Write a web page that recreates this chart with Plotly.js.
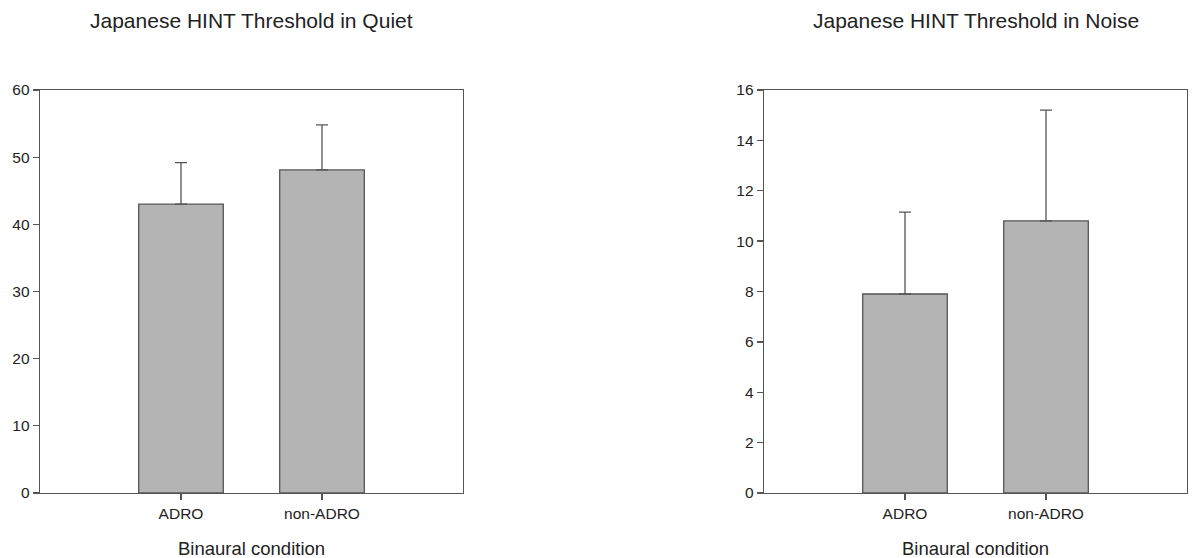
<!DOCTYPE html>
<html>
<head>
<meta charset="utf-8">
<script src="https://cdn.plot.ly/plotly-3.0.1.min.js"></script>
<style>
html,body{margin:0;padding:0;background:#fff;}
#chart{width:1192px;height:558px;}
</style>
</head>
<body>
<div id="chart"></div>
<script>
// Data
const categories = ['ADRO', 'non-ADRO'];
const quietMean = [43.0, 48.1];
const quietErr = [6.2, 6.7];
const noiseMean = [7.9, 10.8];
const noiseErr = [3.25, 4.4];
const quietTicks = [0, 10, 20, 30, 40, 50, 60];
const noiseTicks = [0, 2, 4, 6, 8, 10, 12, 14, 16];
const titles = ['Japanese HINT Threshold in Quiet', 'Japanese HINT Threshold in Noise'];
const xTitle = 'Binaural condition';

const W = 1192, H = 558;
const FONT = 'Liberation Sans, Arial, Helvetica, sans-serif';
const lineCol = '#555555';
const barFill = '#b4b4b4';

const dom1 = [40 / W, 463 / W];
const dom2 = [764 / W, 1187 / W];
const ydom = [(H - 493) / H, (H - 90) / H];

function barTrace(y, err, xa, ya) {
  return {
    type: 'bar',
    x: categories,
    y: y,
    xaxis: xa,
    yaxis: ya,
    marker: {color: barFill, line: {color: lineCol, width: 1.3}},
    error_y: {
      type: 'data', symmetric: false, array: err,
      arrayminus: err.map(() => 0),
      color: lineCol, thickness: 1.3, width: 6
    },
    hoverinfo: 'skip',
    showlegend: false
  };
}

const data = [
  barTrace(quietMean, quietErr, 'x', 'y'),
  barTrace(noiseMean, noiseErr, 'x2', 'y2')
];

function xAxis(domain, anchor) {
  return {
    domain: domain, anchor: anchor, type: 'category',
    range: [-1, 2],
    showline: true, linecolor: lineCol, linewidth: 1.3, mirror: true,
    ticks: 'outside', ticklen: 6, tickcolor: lineCol, tickwidth: 1.3,
    showgrid: false, zeroline: false,
    tickfont: {family: FONT, size: 15.5, color: '#222'},
    fixedrange: true
  };
}
function yAxis(domain, anchor, ticks) {
  return {
    domain: domain, anchor: anchor,
    range: [ticks[0], ticks[ticks.length - 1]],
    tickvals: ticks, ticktext: ticks.map(String),
    showline: true, linecolor: lineCol, linewidth: 1.3, mirror: true,
    ticks: 'outside', ticklen: 6, tickcolor: lineCol, tickwidth: 1.3,
    showgrid: false, zeroline: false,
    tickfont: {family: FONT, size: 15.5, color: '#222'},
    fixedrange: true
  };
}

const annFont = {family: FONT, size: 21, color: '#222'};
const xtFont = {family: FONT, size: 18.5, color: '#222'};
const annotations = [
  {text: titles[0], x: (dom1[0] + dom1[1]) / 2, y: (H - 20) / H},
  {text: titles[1], x: (dom2[0] + dom2[1]) / 2, y: (H - 20) / H},
].map(a => Object.assign(a, {xref: 'paper', yref: 'paper', showarrow: false, xanchor: 'center', yanchor: 'middle', font: annFont}))
.concat([
  {text: xTitle, x: (dom1[0] + dom1[1]) / 2, y: (H - 548) / H},
  {text: xTitle, x: (dom2[0] + dom2[1]) / 2, y: (H - 548) / H},
].map(a => Object.assign(a, {xref: 'paper', yref: 'paper', showarrow: false, xanchor: 'center', yanchor: 'middle', font: xtFont})));

const layout = {
  width: W, height: H,
  margin: {l: 0, r: 0, t: 0, b: 0},
  paper_bgcolor: '#ffffff', plot_bgcolor: '#ffffff',
  bargap: 0.4,
  font: {family: FONT, color: '#222'},
  xaxis: xAxis(dom1, 'y'),
  yaxis: yAxis(ydom, 'x', quietTicks),
  xaxis2: xAxis(dom2, 'y2'),
  yaxis2: yAxis(ydom, 'x2', noiseTicks),
  annotations: annotations,
  showlegend: false
};

Plotly.newPlot('chart', data, layout, {staticPlot: true, displayModeBar: false});
</script>
</body>
</html>
